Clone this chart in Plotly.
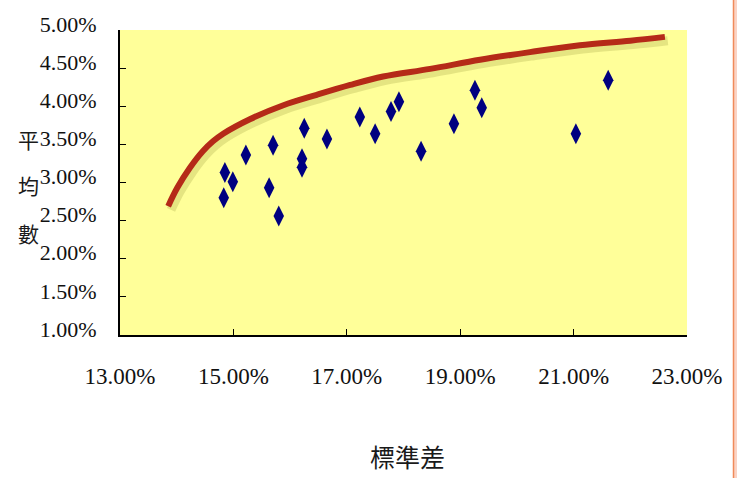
import plotly.graph_objects as go

# Portfolio standard deviation (%) and mean return (%) for each asset
std_dev = [14.83, 14.85, 14.99, 15.22, 15.63, 15.80, 15.70, 16.25, 16.21, 16.21,
           16.65, 17.23, 17.50, 17.78, 17.92, 18.31, 18.89, 19.26, 19.38, 21.04, 21.61]
mean_ret = [2.80, 3.13, 3.01, 3.36, 2.93, 2.56, 3.49, 3.71, 3.31, 3.20,
            3.57, 3.86, 3.64, 3.93, 4.06, 3.41, 3.77, 4.21, 3.98, 3.64, 4.34]

# Efficient frontier
frontier_std = [13.85, 14.01, 14.23, 14.46, 14.64, 14.82, 15.29, 15.87, 16.47,
                17.06, 17.64, 18.47, 19.35, 20.23, 21.11, 22.00, 22.61]
frontier_mean = [2.69, 2.93, 3.19, 3.41, 3.54, 3.64, 3.83, 4.01, 4.15,
                 4.28, 4.39, 4.49, 4.61, 4.71, 4.80, 4.86, 4.91]

x_ticks = [13, 15, 17, 19, 21, 23]
y_ticks = [1.0, 1.5, 2.0, 2.5, 3.0, 3.5, 4.0, 4.5, 5.0]
x_labels = [f"{v:.2f}%" for v in x_ticks]
y_labels = [f"{v:.2f}%" for v in y_ticks]

x_tick_font = dict(family="Liberation Serif", size=23, color="#111111")
y_tick_font = dict(family="Liberation Serif", size=22, color="#111111")

fig = go.Figure()

# soft drop shadow under the frontier
fig.add_trace(go.Scatter(
    x=[v + 0.05 for v in frontier_std], y=[v - 0.05 for v in frontier_mean],
    mode="lines", line=dict(color="rgba(110,110,20,0.18)", width=9, shape="spline"),
    hoverinfo="skip", showlegend=False))

fig.add_trace(go.Scatter(
    x=frontier_std, y=frontier_mean, mode="lines",
    line=dict(color="#B52A18", width=6, shape="spline"), showlegend=False))

fig.add_trace(go.Scatter(
    x=std_dev, y=mean_ret, mode="markers",
    marker=dict(symbol="diamond-tall", size=15, color="#000080"),
    showlegend=False))

fig.update_layout(
    width=737, height=478,
    margin=dict(l=120, r=50, t=20, b=143),
    paper_bgcolor="white", plot_bgcolor="#FFFF99",
    xaxis=dict(range=[13, 23], tickvals=x_ticks, ticktext=x_labels,
               showgrid=False, zeroline=False, showline=True, linecolor="black",
               linewidth=2, ticks="inside", ticklen=6, tickcolor="black",
               tickfont=x_tick_font, ticklabelstandoff=19),
    yaxis=dict(range=[1, 5], tickvals=y_ticks, ticktext=y_labels,
               showgrid=False, zeroline=False, showline=True, linecolor="black",
               linewidth=2, ticks="inside", ticklen=6, tickcolor="black",
               tickfont=y_tick_font, ticklabelstandoff=17, ticklabelshift=-6),
)

# vertical y-axis title, one character per line
for ch, yp in zip("平均數", [133, 180, 230]):
    fig.add_annotation(text=ch, xref="paper", yref="paper",
                       x=(28 - 120) / 567, y=(335 - yp) / 315,
                       showarrow=False, xanchor="center", yanchor="middle",
                       font=dict(family="Noto Sans CJK TC", size=21, color="#1a1a1a"))

fig.add_annotation(text="標準差", xref="paper", yref="paper",
                   x=(407 - 120) / 567, y=(335 - 460) / 315,
                   showarrow=False, xanchor="center", yanchor="middle",
                   font=dict(family="Noto Sans CJK TC", size=25, color="#1a1a1a"))

# slide border strip on the right edge
fig.add_shape(type="rect", xref="paper", yref="paper",
              x0=(734 - 120) / 567, x1=(738 - 120) / 567, y0=-1, y1=2,
              fillcolor="#FBD3C4", line=dict(width=0), layer="below")
fig.add_shape(type="line", xref="paper", yref="paper",
              x0=(733.5 - 120) / 567, x1=(733.5 - 120) / 567, y0=-1, y1=2,
              line=dict(color="#F08A5A", width=1.5))

fig.write_html("out.html")
